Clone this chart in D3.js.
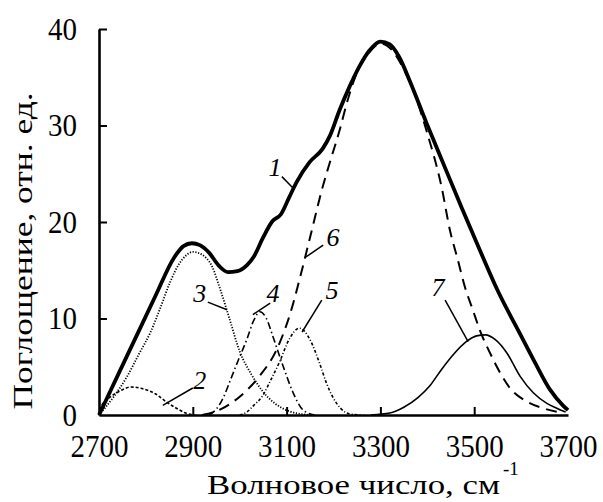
<!DOCTYPE html>
<html>
<head>
<meta charset="utf-8">
<script src="https://cdn.jsdelivr.net/npm/d3@7/dist/d3.min.js"></script>
<style>
  html, body { margin: 0; padding: 0; background: #fff; }
  svg { display: block; }
  text { font-family: "Liberation Serif", "Times New Roman", serif; fill: #000; }
</style>
</head>
<body>
<svg id="chart" width="603" height="502"></svg>
<script>
// ---- Data (wavenumber, absorbance) ----
const xTicks = [2700, 2900, 3100, 3300, 3500, 3700];
const yTicks = [0, 10, 20, 30, 40];

const curve1 = [[2700,0],[2740,4.1],[2780,8.2],[2820,12.3],[2860,16.3],[2880,17.5],[2898,17.8],[2915,17.6],[2935,16.8],[2955,15.5],[2975,14.8],[2995,14.9],[3015,15.5],[3030,16.4],[3050,18.4],[3070,20.1],[3088,20.8],[3106,22.6],[3121,24.1],[3149,26.2],[3177,27.6],[3193,29.0],[3213,31.6],[3234,34.0],[3255,36.1],[3277,37.8],[3300,38.7],[3320,38.4],[3340,37.1],[3362,34.7],[3398,30.3],[3427,26.9],[3474,21.4],[3511,17.2],[3549,13.0],[3600,8.2],[3630,5.4],[3662,2.6],[3689,1.0],[3700,0.5]];
const curve2 = [[2700,0],[2706,1.0],[2725,1.9],[2745,2.5],[2768,2.9],[2795,2.7],[2820,2.2],[2845,1.3],[2865,0.7],[2885,0.2],[2905,0]];
const curve3 = [[2700,0],[2730,1.8],[2760,4.0],[2785,6.3],[2810,8.6],[2830,11.0],[2851,13.7],[2870,15.6],[2885,16.5],[2900,16.9],[2920,16.6],[2940,15.5],[2960,12.8],[2978,10.0],[3000,6.6],[3025,4.2],[3050,2.4],[3075,1.2],[3105,0.4],[3150,0]];
const curve4 = [[2935,0],[2950,0.6],[2965,1.8],[2980,3.6],[2998,5.8],[3015,7.8],[3030,9.8],[3043,10.7],[3057,10.0],[3071,8.1],[3093,5.0],[3114,2.3],[3130,0.8],[3145,0.2],[3160,0]];
const curve5 = [[3000,0],[3015,0.3],[3030,1.0],[3049,2.0],[3067,3.7],[3085,5.5],[3105,7.8],[3127,9.0],[3150,7.8],[3170,5.4],[3185,3.3],[3198,1.9],[3215,0.7],[3235,0.1],[3260,0]];
const curve6 = [[2920,0],[2960,0.6],[3000,1.9],[3040,3.9],[3080,6.9],[3107,10.4],[3130,14.5],[3153,19.0],[3175,23.3],[3193,26.3],[3213,29.5],[3230,32.6],[3250,35.5],[3275,37.5],[3300,38.5],[3325,37.8],[3350,35.8],[3375,33.0],[3398,29.5],[3431,23.5],[3448,19.2],[3465,16.1],[3480,13.3],[3497,10.9],[3512,8.8],[3534,6.4],[3555,4.4],[3576,2.8],[3612,1.4],[3647,0.7],[3680,0.3]];
const curve7 = [[3280,0],[3320,0.2],[3350,0.8],[3380,1.8],[3405,3.0],[3430,4.7],[3458,6.4],[3483,7.6],[3505,8.2],[3524,8.3],[3545,7.8],[3570,6.4],[3598,4.0],[3626,2.3],[3655,1.2],[3676,0.7],[3695,0.3]];

const labelText = ["1","2","3","4","5","6","7"];
const labelPos = [[3075,25.7],[2915,3.6],[2915,12.6],[3071,12.6],[3197,13.0],[3199,18.4],[3423,13.3]];
const leaderFrom = [[3090,24.7],[2900,2.8],[2932,11.7],[3065,11.6],[3175,11.9],[3178,17.6],[3438,11.9]];
const leaderTo = [[3112,23.6],[2836,1.0],[2973,10.9],[3028,10.4],[3133,8.6],[3139,16.3],[3487,7.6]];

// ---- Chart ----
const svg = d3.select("#chart");
const x = d3.scaleLinear().domain([2700, 3700]).range([99, 568]);
const y = d3.scaleLinear().domain([0, 40]).range([415, 29]);

const line = d3.line().x(d => x(d[0])).y(d => y(d[1])).curve(d3.curveMonotoneX);

const styles = [
  { data: curve7, w: 1.6, dash: null },
  { data: curve6, w: 2.0, dash: "11,7" },
  { data: curve5, w: 1.6, dash: "3,2,1,2" },
  { data: curve4, w: 1.6, dash: "7,3,1.5,3" },
  { data: curve3, w: 1.8, dash: "1.2,1.6" },
  { data: curve2, w: 1.6, dash: "3,2" },
  { data: curve1, w: 3.8, dash: null }
];
svg.append("g").selectAll("path").data(styles).join("path")
  .attr("d", d => line(d.data))
  .attr("fill", "none")
  .attr("stroke", "#000")
  .attr("stroke-width", d => d.w)
  .attr("stroke-linejoin", "round")
  .attr("stroke-dasharray", d => d.dash);

// Axes
const xAxis = d3.axisBottom(x).tickValues(xTicks).tickSizeInner(-8).tickSizeOuter(0).tickFormat(d3.format("d"));
const gx = svg.append("g").attr("transform", `translate(0,${y(0)})`).call(xAxis);
gx.select(".domain").attr("stroke-width", 2.6);
gx.selectAll(".tick line").attr("stroke-width", 2).attr("opacity", (d) => (d === 2700 || d === 3700) ? 0 : 1);
gx.selectAll(".tick text")
  .attr("y", 0).attr("dy", null)
  .attr("transform", "translate(0,42) scale(1,1.1)")
  .attr("font-size", 29)
  .style("font-family", "'Liberation Serif', serif");

const yAxis = d3.axisLeft(y).tickValues(yTicks).tickSizeInner(-8).tickSizeOuter(0).tickFormat(d3.format("d"));
const gy = svg.append("g").attr("transform", `translate(${x(2700)},0)`).call(yAxis);
gy.select(".domain").attr("stroke-width", 2.6);
gy.selectAll(".tick line").attr("stroke-width", 2).attr("opacity", d => d === 0 ? 0 : 1);
gy.selectAll(".tick text")
  .attr("x", 0).attr("dy", null)
  .attr("transform", "translate(-22,10) scale(1,1.1)")
  .attr("font-size", 29)
  .style("font-family", "'Liberation Serif', serif");

// Curve labels and leaders
const ann = svg.append("g");
ann.selectAll("line").data(labelText).join("line")
  .attr("x1", (d, i) => x(leaderFrom[i][0])).attr("y1", (d, i) => y(leaderFrom[i][1]))
  .attr("x2", (d, i) => x(leaderTo[i][0])).attr("y2", (d, i) => y(leaderTo[i][1]))
  .attr("stroke", "#000").attr("stroke-width", 1.5);
ann.selectAll("text").data(labelText).join("text")
  .attr("x", (d, i) => x(labelPos[i][0])).attr("y", (d, i) => y(labelPos[i][1]) + 9)
  .attr("text-anchor", "middle")
  .attr("font-size", 26).attr("font-style", "italic")
  .text(d => d);

// Axis titles
svg.append("text")
  .attr("x", 207).attr("y", 494)
  .attr("font-size", 27)
  .attr("textLength", 293).attr("lengthAdjust", "spacingAndGlyphs")
  .text("Волновое число, см");
svg.append("text")
  .attr("x", 503).attr("y", 475)
  .attr("font-size", 19)
  .text("-1");
svg.append("text")
  .attr("transform", "translate(32,251) rotate(-90)")
  .attr("text-anchor", "middle")
  .attr("font-size", 28)
  .attr("textLength", 317).attr("lengthAdjust", "spacingAndGlyphs")
  .text("Поглощение, отн. ед.");
</script>
</body>
</html>
